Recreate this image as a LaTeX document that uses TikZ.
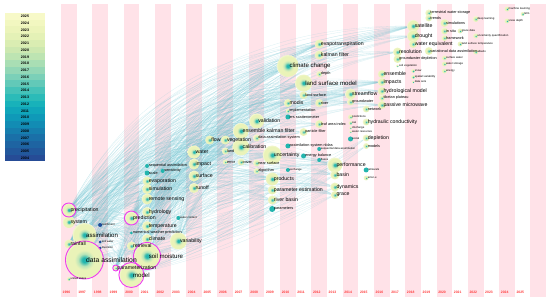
\documentclass[tikz,border=0pt]{standalone}
\usepackage{fontspec}
\setmainfont{Liberation Sans}
\usetikzlibrary{positioning}

\definecolor{stripec}{HTML}{FFE2E8}
\definecolor{yrred}{HTML}{FF3B3B}
\definecolor{ringmag}{HTML}{EE3CEE}
\definecolor{core}{HTML}{22B5AE}
\definecolor{mid}{HTML}{B8E4B8}
\definecolor{pale}{HTML}{EAF3B8}
\definecolor{rim}{HTML}{F3F7D2}
\definecolor{linkc}{HTML}{7CC8D4}
\definecolor{olddot}{HTML}{1E4E9C}

\pgfdeclareradialshading{haloshade}{\pgfpoint{0bp}{0bp}}{color(0bp)=(core); color(3bp)=(core); color(8bp)=(mid); color(13bp)=(pale); color(23bp)=(pale); color(25bp)=(rim); color(50bp)=(rim)}

\pgfdeclarelayer{bg}
\pgfdeclarelayer{halos}
\pgfsetlayers{bg,halos,main}

\begin{document}
\begin{tikzpicture}[x=1pt,y=-1pt,
    halo/.style={circle,inner sep=0pt,shading=haloshade},
    dot/.style={circle,inner sep=0pt,fill=core},
    old/.style={circle,inner sep=0pt,fill=olddot},
    ring/.style={draw=ringmag,line width=0.9pt},
    kw/.style={inner sep=0.5pt,text=black},
    fxl/.style={kw,font=\fontsize{6.8}{7}\selectfont},
    flg/.style={kw,font=\fontsize{6.1}{7}\selectfont},
    fmd/.style={kw,font=\fontsize{5.2}{6}\selectfont},
    fsm/.style={kw,font=\fontsize{3.8}{4}\selectfont},
    ftn/.style={kw,font=\fontsize{2.8}{3}\selectfont},
    link/.style={draw=linkc,opacity=0.28,line width=0.3pt},
    yrlbl/.style={text=yrred,anchor=west,inner sep=0pt,xshift=1.5pt,font=\fontsize{3.4}{4}\bfseries},
    leglbl/.style={inner sep=0pt,font=\fontsize{3.6}{4}\bfseries}
    ]

    \useasboundingbox (0,0) rectangle (550,304);

    % legend
    \foreach \c [count=\k from 0] in {F7F9C8,F2F7C0,ECF4BA,E4F1B6,DAEDB2,CDE8B0,BDE4B2,A9DEB4,93D7B6,7BD0B8,62C9B8,45C2B8,2BBBB8,18B2BA,10A6BA,0F99B8,128CB4,167EAE,1A70A8,1E64A2,22589C,264C96} {
      \definecolor{legc}{HTML}{\c}
      \fill[legc] (5,{13+6.75*\k}) rectangle (45,{19.75+6.75*\k});
      \pgfmathtruncatemacro\yr{2025-\k}
      \node[leglbl] (leg\yr) at (25,{16.4+6.75*\k}) {\yr};
    }

    \begin{scope}[shift={(68.8,0)},x=15.65pt]
    % time zones
    \begin{pgfonlayer}{bg}
      \foreach \i in {0,2,...,30}
        \fill[stripec] (\i-0.5,4) rectangle (\i+0.5,297);
    \end{pgfonlayer}
    \foreach \i in {0,...,29} {
      \pgfmathtruncatemacro\yr{1996+\i}
      \node[yrlbl] (yr\yr) at (\i-0.5,292) {\yr};
    }

    % keywords: name/zone/y/size/dot/font/label
    \foreach \nm/\i/\y/\s/\st/\f/\txt in {
      da/1/260/38/halo/fxl/data assimilation,
      assim/1/235/24/halo/flg/assimilation,
      sm/5/256/26/halo/flg/soil moisture,
      model/4/275/24/halo/flg/model,
      cc/14/66/22/halo/flg/climate change,
      lsm/15/83/17/halo/flg/land surface model,
      precip/0/210/13/halo/fmd/precipitation,
      system/0/222/12/halo/fmd/system,
      rainfall/0/244/9/halo/fmd/rainfall,
      pred/4/218/12/halo/fmd/prediction,
      param/3/268/5/halo/fmd/parameterization,
      retr/4/246/9/halo/fmd/retrieval,
      hydro/5/212/10/halo/fmd/hydrology,
      rs/5/199/11/halo/fmd/remote sensing,
      sim/5/189/10/halo/fmd/simulation,
      evap/5/181/9/halo/fmd/evaporation,
      temp/5/226/10/halo/fmd/temperature,
      clim/5/239/10/halo/fmd/climate,
      var/7/241/17/halo/fmd/variability,
      water/8/152/13/halo/fmd/water,
      impact/8/164/11/halo/fmd/impact,
      surface/8/176/11/halo/fmd/surface,
      runoff/8/188/10/halo/fmd/runoff,
      flow/9/140/9/halo/fmd/flow,
      veg/10/140/9/halo/fmd/vegetation,
      enkf/11/131/16/halo/fmd/ensemble kalman filter,
      calib/11/147/17/halo/fmd/calibration,
      valid/12/121/15/halo/fmd/validation,
      unc/13/155/19/halo/fmd/uncertainty,
      prod/13/179/13/halo/fmd/products,
      pe/13/190/9/halo/fmd/parameter estimation,
      rb/13/200/9/halo/fmd/river basin,
      perf/17/165/15/halo/fmd/performance,
      basin/17/175/9/halo/fmd/basin,
      dyn/17/187/9/halo/fmd/dynamics,
      grace/17/195/8/halo/fmd/grace,
      stream/18/94/11/halo/fmd/streamflow,
      evapo/16/44/9/halo/fmd/evapotranspiration,
      kf/16/55/9/halo/fmd/kalman filter,
      modis/14/103/8/halo/fmd/modis,
      sat/22/26/12/halo/fmd/satellite,
      drought/22/36/12/halo/fmd/drought,
      swe/22/44/8/halo/fmd/water equivalent,
      ens/20/74/8/halo/fmd/ensemble,
      imp/20/82/8/halo/fmd/impacts,
      hm/20/91/8/halo/fmd/hydrological model,
      pm/20/105/8/halo/fmd/passive microwave,
      res/21/52/9/halo/fmd/resolution,
      gwd/21/59/8/halo/fsm/groundwater depletion,
      hc/19/122/7/halo/fmd/hydraulic conductivity,
      depl/19/138/7/halo/fmd/depletion,
      seqa/5/166/4/dot/fsm/sequential assimilation,
      scale/5/173/5/dot/fsm/scale,
      sens/6/171/4/dot/fsm/sensitivity,
      nwp/4/233/3/dot/fsm/numerical weather prediction,
      land/10/151/7/halo/fsm/land,
      error/10/162/5/halo/fsm/error,
      cover/11/162/7/halo/fsm/cover,
      das/12/138/7/halo/fsm/data assimilation system,
      near/12/163/7/halo/fsm/near surface,
      algo/12/171/6/halo/fsm/algorithm,
      params/13/209/6/dot/fsm/parameters,
      impl/14/111/4/halo/fsm/implementation,
      ers/14/117/5/dot/fsm/ers scatterometer,
      nldas/14/146/5/dot/fsm/assimilation system nldas,
      lsurf/15/95/8/halo/fsm/land surface,
      pf/15/132/8/halo/fsm/particle filter,
      eb/15/156/5/dot/fsm/energy balance,
      depth/16/74/6/halo/fsm/depth,
      river/16/103/8/halo/fsm/river,
      lai/16/124/8/halo/fsm/leaf area index,
      gw/18/102/7/halo/fsm/groundwater,
      network/19/109/7/halo/fsm/network,
      models/19/146/6/halo/fsm/models,
      tp/20/98/6/halo/fsm/tibetan plateau,
      tws/23/13/7/halo/fsm/terrestrial water storage,
      trends/23/18/7/halo/fsm/trends,
      vda/23/51/8/halo/fsm/variational data assimilation,
      sims/24/23/8/halo/fsm/simulations,
      insitu/24/31/7/halo/fsm/in situ,
      fw/24/38/6/halo/fsm/framework,
      us/0/279/4/halo/ftn/united states,
      catch/2/225/4/old/ftn/catchment,
      soilw/2/242/3/old/ftn/soil water,
      inv/2/248/3/old/ftn/inversion,
      wc/7/218/4/dot/ftn/water content,
      exch/14/170/4/dot/ftn/exchange,
      sda/16/149/4/dot/ftn/sequential data assimilation,
      flux/16/160/4/dot/ftn/fluxes,
      preds/18/117/5/halo/ftn/predictions,
      swi/18/123/4/halo/ftn/swi,
      disc/18/128/3/halo/ftn/discharge,
      wres/18/132/3/halo/ftn/water resources,
      social/18/139/5/dot/ftn/social,
      retv/19/170/5/dot/ftn/retrievals,
      amsr/19/178/5/halo/ftn/amsr-e,
      soilv/21/66/3/halo/ftn/soil vegetation,
      snow/22/71/4/halo/ftn/snow,
      spv/22/77/4/halo/ftn/spatial variability,
      dsets/22/82/3/halo/ftn/data sets,
      sw/24/58/5/halo/ftn/surface water,
      wsto/24/64/5/halo/ftn/water storage,
      energy/24/71/5/halo/ftn/energy,
      gd/25/31/5/halo/ftn/grace data,
      lst/25/44/5/halo/ftn/land surface temperature,
      dl/26/19/6/halo/ftn/deep learning,
      uq/26/36/5/halo/ftn/uncertainty quantification,
      alb/26/52/5/halo/ftn/albedo,
      ml/28/9/5/halo/ftn/machine learning,
      sdep/28/21/5/halo/ftn/snow depth,
      lstm/29/14/4/halo/ftn/lstm} {
      \begin{pgfonlayer}{halos}
        \node[\st,minimum size=\s pt] (\nm) at (\i,\y) {};
      \end{pgfonlayer}
      \node[\f,right=1pt of \nm.center] (\nm-t) {\txt};
    }

    % bursts
    \begin{pgfonlayer}{halos}
      \foreach \nm/\r in {da/19,model/12.5,sm/13.5,precip/7,pred/7,param/3}
        \draw[ring] (\nm.center) circle (\r pt);
    \end{pgfonlayer}

    % co-occurrence links
    \begin{pgfonlayer}{bg}
      \foreach \a in {da,assim,sm,model,precip,system,rainfall,pred,param,var}
        \foreach \b in {water,impact,surface,runoff,flow,veg,land,enkf,calib,valid,das,unc,prod,pe,rb,cc,modis,lsm,lsurf,pf,evapo,kf,lai,perf,basin,dyn,grace,stream,gw,imp,hm,pm,sat,drought,res}
          \draw[link] (\a) to[bend left=28] (\b);
      \foreach \a in {hydro,rs,sim,evap,clim,temp,retr,water,impact,surface,runoff}
        \foreach \b in {enkf,calib,valid,unc,prod,cc,lsm,evapo,perf,stream,imp,sat}
          \draw[link] (\a) to[bend left=22] (\b);
      \foreach \a in {precip,system,rainfall,assim,da,catch}
        \foreach \b in {pred,retr,clim,temp,hydro,rs,sim,evap,sm,model,param,var}
          \draw[link] (\a) to[bend left=18] (\b);
      \foreach \a in {da,sm,model,assim}
        \foreach \b in {prod,pe,rb,params,perf,basin,dyn,grace,models,depl}
          \draw[link] (\a) to[bend right=8] (\b);
    \end{pgfonlayer}
    \end{scope}
\end{tikzpicture}
\end{document}
